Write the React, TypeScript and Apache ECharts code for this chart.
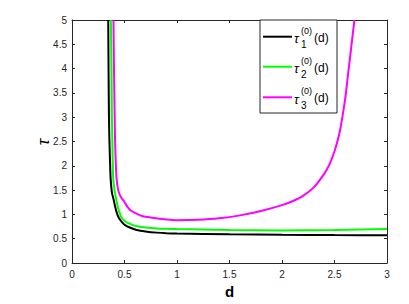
import React, { useEffect, useRef } from "react";
import * as echarts from "echarts";

const xTicks = [0, 0.5, 1, 1.5, 2, 2.5, 3];
const yTicks = [0, 0.5, 1, 1.5, 2, 2.5, 3, 3.5, 4, 4.5, 5];

const d1 = [0.345, 0.348, 0.352, 0.356, 0.362, 0.368, 0.38, 0.397, 0.415, 0.435, 0.455, 0.48, 0.505, 0.55, 0.616, 0.7, 0.807, 0.9, 1, 1.5, 2, 2.5, 3];
const tau1 = [5, 4, 3, 2.55, 2.1, 1.73, 1.45, 1.3, 1.12, 0.98, 0.9, 0.83, 0.78, 0.73, 0.68, 0.65, 0.625, 0.612, 0.605, 0.59, 0.58, 0.575, 0.572];

const d2 = [0.37, 0.376, 0.38, 0.384, 0.388, 0.393, 0.405, 0.42, 0.437, 0.455, 0.473, 0.5, 0.537, 0.58, 0.632, 0.7, 0.807, 0.9, 1, 1.5, 2, 2.5, 3];
const tau2 = [5, 4, 3, 2.55, 2.1, 1.73, 1.5, 1.33, 1.15, 1.02, 0.93, 0.87, 0.82, 0.78, 0.75, 0.73, 0.71, 0.703, 0.698, 0.68, 0.67, 0.68, 0.7];

const d3 = [0.395, 0.4, 0.41, 0.418, 0.425, 0.44, 0.46, 0.495, 0.53, 0.56, 0.6, 0.65, 0.7, 0.8, 0.9, 1, 1.2, 1.4, 1.6, 1.8, 2, 2.1, 2.2, 2.3, 2.4, 2.45, 2.5, 2.55, 2.6, 2.63, 2.66, 2.69];
const tau3 = [5, 4, 2.55, 2.0, 1.73, 1.5, 1.38, 1.27, 1.15, 1.08, 1.03, 0.98, 0.95, 0.92, 0.895, 0.88, 0.89, 0.92, 0.98, 1.07, 1.19, 1.27, 1.38, 1.55, 1.83, 2.02, 2.3, 2.7, 3.35, 3.9, 4.45, 5];

const names = ["τ1(0)(d)", "τ2(0)(d)", "τ3(0)(d)"];
const colors = ["#000000", "#00ff00", "#ff00ff"];

const FONT = "Liberation Sans, Arial, Helvetica, sans-serif";
const AX = "#262626";

function txt(text: string, x: number, y: number, font: string, extra: any = {}) {
  return {
    type: "text",
    x, y,
    z: 101,
    ...extra,
    style: {
      text, font, fill: "#000",
      textAlign: extra.align || "left", align: extra.align || "left",
      textVerticalAlign: "middle", verticalAlign: "middle",
    },
  };
}

export default function App() {
  const ref = useRef<HTMLDivElement>(null);
  useEffect(() => {
    document.body.style.margin = "0";
    const chart = echarts.init(ref.current!, null, { renderer: "svg" });
    const pairs = [
      d1.map((d, i) => [d, tau1[i]]),
      d2.map((d, i) => [d, tau2[i]]),
      d3.map((d, i) => [d, tau3[i]]),
    ];
    const axisCommon = {
      type: "value" as const,
      axisLine: { show: true, onZero: false, lineStyle: { color: AX, width: 1 } },
      axisTick: { show: true, inside: true, length: 3, lineStyle: { color: AX } },
      splitLine: { show: false },
    };
    const g: any[] = [];
    g.push({
      type: "rect",
      shape: { x: 260, y: 20, width: 77, height: 93 },
      style: { fill: "#ffffff", stroke: AX, lineWidth: 1 },
      z: 100,
    });
    const rows = [36.7, 66.7, 97.3];
    rows.forEach((ry, i) => {
      g.push({
        type: "line",
        shape: { x1: 263, y1: ry, x2: 292, y2: ry },
        style: { stroke: colors[i], lineWidth: 2 },
        z: 101,
      });
      g.push(txt("τ", 294, ry + 2, `italic 13px ${FONT}`));
      g.push(txt("(0)", 301, ry - 6, `9px ${FONT}`));
      g.push(txt(String(i + 1), 301, ry + 8, `10px ${FONT}`));
      g.push(txt("(d)", 314, ry + 1, `12px ${FONT}`));
    });
    g.push({
      type: "text",
      x: 43, y: 142,
      rotation: Math.PI / 2,
      z: 101,
      style: {
        text: "τ", font: `italic 17px ${FONT}`, fill: "#000",
        textAlign: "center", align: "center",
        textVerticalAlign: "middle", verticalAlign: "middle",
      },
    });
    chart.setOption({
      animation: false,
      backgroundColor: "#ffffff",
      grid: { left: 72, right: 22, top: 20, bottom: 39, containLabel: false },
      xAxis: [
        {
          ...axisCommon,
          min: 0, max: 3, interval: 0.5,
          name: "d",
          nameLocation: "middle",
          nameGap: 21,
          nameTextStyle: { fontFamily: FONT, fontSize: 15, fontWeight: "bold", color: "#000" },
          axisLabel: { fontFamily: FONT, fontSize: 10, color: AX, margin: 6, formatter: (v: number) => (xTicks.includes(v) ? String(v) : "") },
        },
        {
          ...axisCommon,
          position: "top",
          min: 0, max: 3, interval: 0.5,
          axisLabel: { show: false },
        },
      ],
      yAxis: [
        {
          ...axisCommon,
          min: 0, max: 5, interval: 0.5,
          axisLabel: { fontFamily: FONT, fontSize: 10, color: AX, margin: 5, formatter: (v: number) => (yTicks.includes(v) ? String(v) : "") },
        },
        {
          ...axisCommon,
          position: "right",
          min: 0, max: 5, interval: 0.5,
          axisLabel: { show: false },
        },
      ],
      series: pairs.map((data, i) => ({
        name: names[i],
        type: "line",
        data,
        smooth: 0.2,
        showSymbol: false,
        symbol: "none",
        clip: true,
        lineStyle: { color: colors[i], width: 2 },
        z: 3 - i,
      })),
      graphic: g,
    });
    return () => chart.dispose();
  }, []);
  return <div ref={ref} style={{ width: 409, height: 304 }} />;
}
